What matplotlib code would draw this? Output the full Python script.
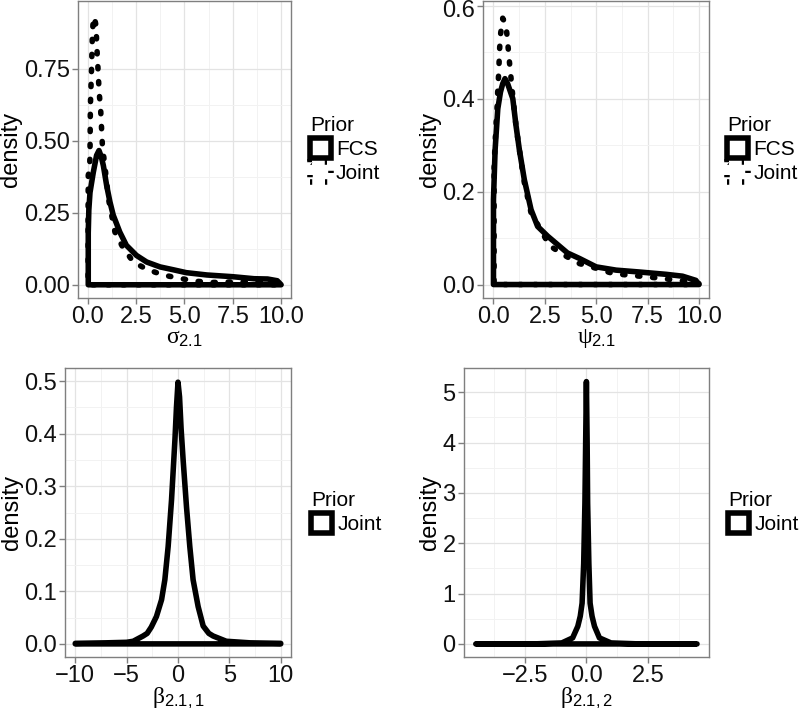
import numpy as np
import matplotlib
matplotlib.use("Agg")
import matplotlib.pyplot as plt
import matplotlib.transforms as mtransforms
from matplotlib.patches import Polygon, Patch

plt.rcParams['font.family'] = ['Liberation Sans', 'DejaVu Sans']
plt.rcParams['mathtext.fontset'] = 'custom'
plt.rcParams['mathtext.rm'] = 'Liberation Sans'
plt.rcParams['mathtext.it'] = 'Liberation Serif'
plt.rcParams['mathtext.bf'] = 'Liberation Sans:bold'

# curvas de densidad
sigma_fcs_x = [0.03, 0.06, 0.12, 0.29, 0.46, 0.585, 0.7, 0.81, 0.98, 1.15, 1.32, 1.66, 2.0, 2.52, 3.05, 3.74,
               4.43, 5.1, 6.16, 7.5, 8.6, 9.3, 9.8, 10.0]
sigma_fcs_y = [0.18, 0.26, 0.32, 0.39, 0.449, 0.466, 0.445, 0.414, 0.345, 0.288, 0.242, 0.183, 0.137, 0.102, 0.079, 0.062,
               0.052, 0.042, 0.034, 0.028, 0.021, 0.02, 0.014, 0.0]
sigma_joint_x = [0.02, 0.03, 0.1, 0.12, 0.14, 0.2, 0.24, 0.29, 0.34, 0.43, 0.46, 0.5, 0.55, 0.59, 0.67, 0.76,
                 0.98, 1.07, 1.24, 1.41, 1.81, 2.36, 3.05, 3.9, 4.78, 5.64, 6.5, 7.5, 8.6, 9.3, 10.0]
sigma_joint_y = [0.22, 0.38, 0.40, 0.45, 0.62, 0.75, 0.86, 0.924, 0.93, 0.90, 0.85, 0.79, 0.73, 0.67, 0.61, 0.484,
                 0.36, 0.30, 0.242, 0.183, 0.131, 0.079, 0.054, 0.034, 0.022, 0.012, 0.008, 0.01, 0.01, 0.014, 0.0]

psi_fcs_x = [0.0, 0.08, 0.21, 0.34, 0.45, 0.56, 0.69, 0.94, 1.1, 1.26, 1.5, 1.83, 2.15, 2.64, 3.12, 3.6,
             4.19, 5.0, 5.97, 7.1, 8.4, 9.2, 9.85, 10.0]
psi_fcs_y = [0.183, 0.29, 0.378, 0.414, 0.432, 0.443, 0.432, 0.40, 0.341, 0.29, 0.226, 0.161, 0.125, 0.104, 0.086, 0.068,
             0.056, 0.038, 0.031, 0.027, 0.022, 0.018, 0.009, 0.0]
psi_joint_x = [0.03, 0.08, 0.13, 0.18, 0.21, 0.26, 0.29, 0.34, 0.45, 0.61, 0.69, 0.77, 0.85, 0.94, 1.1, 1.26,
               1.5, 1.83, 2.31, 2.72, 3.45, 4.19, 5.0, 5.8, 6.6, 7.4, 8.2, 9.05, 10.0]
psi_joint_y = [0.25, 0.305, 0.348, 0.385, 0.42, 0.46, 0.50, 0.537, 0.573, 0.558, 0.522, 0.482, 0.446, 0.405, 0.34, 0.29,
               0.22, 0.154, 0.117, 0.084, 0.063, 0.045, 0.035, 0.024, 0.02, 0.017, 0.013, 0.009, 0.002]

beta1_x = [-10.0, -7.0, -5.0, -4.36, -3.4, -3.0, -2.6, -2.1, -1.6, -1.28, -0.96, -0.63, -0.3, -0.15, 0.0, 0.15, 0.3,
           0.5, 0.83, 1.15, 1.47, 1.96, 2.45, 3.0, 3.42, 4.7, 7.0, 10.0]
beta1_y = [0.001, 0.002, 0.003, 0.005, 0.015, 0.02, 0.032, 0.052, 0.084, 0.122, 0.185, 0.274, 0.388, 0.45, 0.498, 0.47, 0.41,
           0.35, 0.26, 0.185, 0.122, 0.071, 0.034, 0.02, 0.015, 0.005, 0.002, 0.001]

beta2_x = [-4.5, -2.0, -1.0, -0.56, -0.35, -0.25, -0.175, -0.11, -0.06, -0.03, 0.0, 0.03, 0.05, 0.1, 0.15, 0.23,
           0.33, 0.53, 1.0, 2.0, 4.5]
beta2_y = [0.0, 0.003, 0.02, 0.12, 0.35, 0.55, 0.81, 1.6, 2.8, 4.0, 5.21, 4.0, 2.8, 1.6, 0.81, 0.55,
           0.35, 0.12, 0.02, 0.003, 0.0]

LW = 4.0
DOT = (0, (0.4, 2.3))


def density(ax, x, y, ls):
    # poligono cerrado como geom_density: curva + linea base
    pts = list(zip(x, y)) + [(x[-1], 0.0), (x[0], 0.0)]
    p = Polygon(pts, closed=True, facecolor='none', edgecolor='black',
                linewidth=LW, linestyle=ls, joinstyle='round', capstyle='round')
    ax.add_patch(p)


def style(ax, xlim, ylim, xt, xtl, yt, ytl, xlabel):
    ax.set_xlim(xlim)
    ax.set_ylim(ylim)
    ax.set_xticks(xt)
    ax.set_xticklabels(xtl)
    ax.set_yticks(yt)
    ax.set_yticklabels(ytl)
    xm = [(a + b) / 2 for a, b in zip(xt[:-1], xt[1:])]
    ym = [(a + b) / 2 for a, b in zip(yt[:-1], yt[1:])]
    ax.set_xticks(xm, minor=True)
    ax.set_yticks(ym, minor=True)
    ax.grid(True, which='major', color='#e3e3e3', lw=0.9)
    ax.grid(True, which='minor', color='#f2f2f2', lw=0.7)
    ax.set_axisbelow(True)
    ax.tick_params(which='minor', length=0)
    ax.tick_params(which='major', length=4, width=1, color='#7f7f7f',
                   labelsize=17, labelcolor='#111111', pad=2)
    for s in ax.spines.values():
        s.set_color('#7f7f7f')
        s.set_linewidth(1.0)
    ax.set_xlabel(xlabel, fontsize=17, labelpad=-1)
    ax.set_ylabel('density', fontsize=17, labelpad=1)


def legend(ax, labels, styles, x):
    handles = [Patch(facecolor='white', edgecolor='black', linewidth=LW,
                     linestyle=s, capstyle='round') for s in styles]
    leg = ax.legend(handles, labels, title='Prior', loc='center left',
                    bbox_to_anchor=(x, 0.5), frameon=False, fontsize=15,
                    title_fontsize=15, handlelength=1.0, handleheight=1.1,
                    handletextpad=0.25, labelspacing=0.12, borderpad=0,
                    borderaxespad=0, alignment='left')
    return leg


fig = plt.figure(figsize=(8, 7.14), dpi=100)

ax1 = fig.add_axes([0.0975, 0.5826, 0.266, 0.416])
density(ax1, sigma_fcs_x, sigma_fcs_y, '-')
density(ax1, sigma_joint_x, sigma_joint_y, DOT)
style(ax1, (-0.5, 10.5), (-0.046, 0.985), [0, 2.5, 5, 7.5, 10],
      ['0.0', '2.5', '5.0', '7.5', '10.0'], [0, 0.25, 0.5, 0.75],
      ['0.00', '0.25', '0.50', '0.75'], r'$\sigma_{2.1}$')
legend(ax1, ['FCS', 'Joint'], ['-', DOT], 1.09)

ax2 = fig.add_axes([0.604, 0.5826, 0.2825, 0.416])
density(ax2, psi_fcs_x, psi_fcs_y, '-')
density(ax2, psi_joint_x, psi_joint_y, DOT)
style(ax2, (-0.5, 10.5), (-0.029, 0.61), [0, 2.5, 5, 7.5, 10],
      ['0.0', '2.5', '5.0', '7.5', '10.0'], [0, 0.2, 0.4, 0.6],
      ['0.0', '0.2', '0.4', '0.6'], r'$\psi_{2.1}$')
legend(ax2, ['FCS', 'Joint'], ['-', DOT], 1.08)
# bajar un poco la etiqueta 0.6 para que no quede cortada arriba
top_lab = ax2.get_yticklabels()[-1]
top_lab.set_transform(top_lab.get_transform() +
                      mtransforms.ScaledTranslation(0, -2 / 72, fig.dpi_scale_trans))

ax3 = fig.add_axes([0.08125, 0.0798, 0.2825, 0.4048])
density(ax3, beta1_x, beta1_y, '-')
style(ax3, (-11, 11), (-0.025, 0.525), [-10, -5, 0, 5, 10],
      ['\u221210', '\u22125', '0', '5', '10'], [0, 0.1, 0.2, 0.3, 0.4, 0.5],
      ['0.0', '0.1', '0.2', '0.3', '0.4', '0.5'], r'$\beta_{2.1,1}$')
legend(ax3, ['Joint'], ['-'], 1.09)

ax4 = fig.add_axes([0.58, 0.0798, 0.306, 0.4048])
density(ax4, beta2_x, beta2_y, '-')
style(ax4, (-4.98, 4.98), (-0.26, 5.48), [-2.5, 0, 2.5],
      ['\u22122.5', '0.0', '2.5'], [0, 1, 2, 3, 4, 5],
      ['0', '1', '2', '3', '4', '5'], r'$\beta_{2.1,2}$')
ax4.set_xticks([-3.75, -1.25, 1.25, 3.75], minor=True)
legend(ax4, ['Joint'], ['-'], 1.08)

fig.savefig('out.png', dpi=100)
